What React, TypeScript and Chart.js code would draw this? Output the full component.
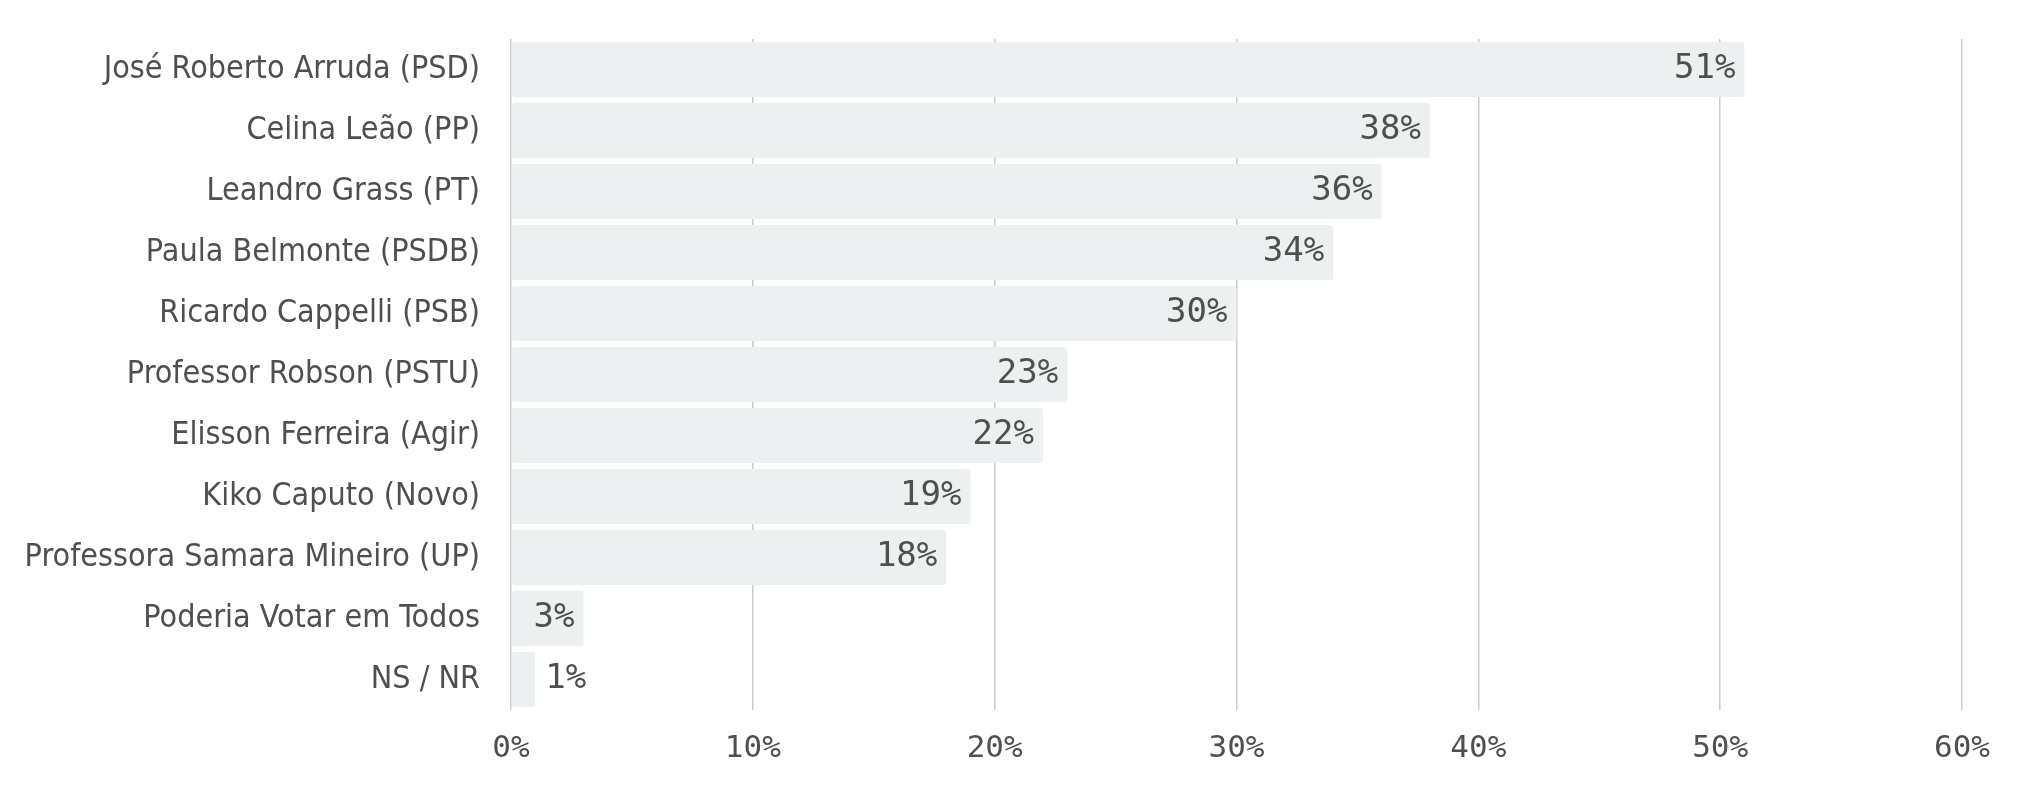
import React, { useEffect, useRef } from "react";
import { Chart, registerables } from "chart.js";

Chart.register(...registerables);

const categories = [
  "José Roberto Arruda (PSD)",
  "Celina Leão (PP)",
  "Leandro Grass (PT)",
  "Paula Belmonte (PSDB)",
  "Ricardo Cappelli (PSB)",
  "Professor Robson (PSTU)",
  "Elisson Ferreira (Agir)",
  "Kiko Caputo (Novo)",
  "Professora Samara Mineiro (UP)",
  "Poderia Votar em Todos",
  "NS / NR",
];

const values = [51, 38, 36, 34, 30, 23, 22, 19, 18, 3, 1];

const xMin = 0;
const xMax = 60;
const xStep = 10;

const NAME_FONT = "'DejaVu Sans Condensed', 'Liberation Sans Narrow', 'DejaVu Sans', sans-serif";
const TICK_FONT = "'DejaVu Sans Mono', 'Liberation Mono', monospace";
const TEXT_COLOR = "#4f4f4f";

const setStretch = (chart: any) => {
  try {
    (chart.ctx as any).fontStretch = "condensed";
  } catch (e) {
    /* ignore */
  }
};

const condensedPlugin = {
  id: "condensedText",
  beforeUpdate: setStretch,
  beforeLayout: setStretch,
  beforeDraw: setStretch,
  beforeDatasetsDraw: setStretch,
  afterDatasetsDraw: setStretch,
};

const valueLabelsPlugin = {
  id: "valueLabels",
  afterDatasetsDraw(chart: any) {
    const ctx = chart.ctx;
    const meta = chart.getDatasetMeta(0);
    const data = chart.data.datasets[0].data as number[];
    ctx.save();
    ctx.font = `34px ${TICK_FONT}`;
    ctx.fillStyle = TEXT_COLOR;
    ctx.textBaseline = "middle";
    meta.data.forEach((bar: any, i: number) => {
      const text = `${data[i]}%`;
      const w = ctx.measureText(text).width;
      const inside = bar.x - bar.base > w + 12;
      if (inside) {
        ctx.textAlign = "right";
        ctx.fillText(text, bar.x - 9, bar.y);
      } else {
        ctx.textAlign = "left";
        ctx.fillText(text, bar.x + 10, bar.y);
      }
    });
    ctx.restore();
  },
};

export default function App() {
  const canvasRef = useRef<HTMLCanvasElement | null>(null);

  useEffect(() => {
    if (!canvasRef.current) return;
    const chart = new Chart(canvasRef.current, {
      type: "bar",
      data: {
        labels: categories,
        datasets: [
          {
            data: values,
            backgroundColor: "#ecf0f1",
            borderWidth: 0,
            borderRadius: 3,
            borderSkipped: false,
            barPercentage: 0.9,
            categoryPercentage: 1.0,
          },
        ],
      },
      options: {
        indexAxis: "y",
        animation: false,
        responsive: true,
        maintainAspectRatio: false,
        layout: { padding: { top: 31, right: 53, bottom: 0, left: 0 } },
        plugins: {
          legend: { display: false },
          tooltip: { enabled: false },
          title: { display: false },
        },
        scales: {
          x: {
            type: "linear",
            position: "bottom",
            min: xMin,
            max: xMax,
            border: { display: false },
            grid: {
              color: "#cccccc",
              lineWidth: 1.5,
              drawTicks: false,
            },
            ticks: {
              stepSize: xStep,
              padding: 20,
              color: TEXT_COLOR,
              font: { family: TICK_FONT, size: 31 },
              callback: (v: any) => `${v}%`,
            },
            afterFit: (scale: any) => {
              scale.height = 82;
            },
          },
          y: {
            border: { display: false },
            grid: { display: false, drawTicks: false },
            ticks: {
              padding: 31,
              color: TEXT_COLOR,
              font: { family: NAME_FONT, size: 32 },
              autoSkip: false,
            },
            afterFit: (scale: any) => {
              scale.width = 503;
              scale.paddingTop = 0;
              scale.paddingBottom = 0;
            },
          },
        },
      },
      plugins: [condensedPlugin, valueLabelsPlugin],
    });
    return () => chart.destroy();
  }, []);

  return (
    <div style={{ position: "relative", width: "100%", height: "784px" }}>
      <canvas ref={canvasRef} />
    </div>
  );
}
